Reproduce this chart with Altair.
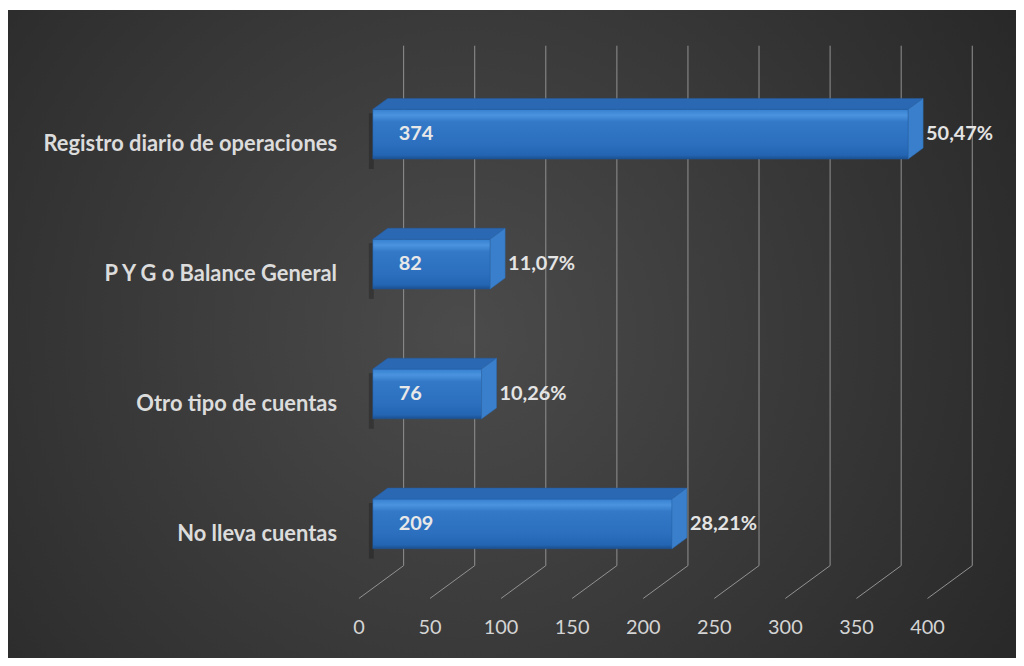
import altair as alt
import pandas as pd

# ---- data ----
categories = ["Registro diario de operaciones", "P Y G o Balance General",
              "Otro tipo de cuentas", "No lleva cuentas"]
values = [374, 82, 76, 209]
percent_labels = ["50,47%", "11,07%", "10,26%", "28,21%"]
ticks = [0, 50, 100, 150, 200, 250, 300, 350, 400]

# ---- geometry (style constants) ----
W, H = 1014, 652
BAR_RANGE = [367, 943]       # x range of bar scale (front plane of bars)
GRID_RANGE = [398, 970]      # x range of back wall gridlines
ROW_RANGE = [125, 517]       # y positions of the 4 category rows
X_PX = (BAR_RANGE[1] - BAR_RANGE[0]) / 400.0
ROW_PX = (ROW_RANGE[1] - ROW_RANGE[0]) / 3.0
HALF_H = 25 / ROW_PX
DEPTH_Y = 11 / ROW_PX
DEPTH_X = 15 / X_PX
SHADOW = 10 / ROW_PX

rows = list(range(len(categories)))
base = pd.DataFrame({"cat": categories, "value": values, "pct": percent_labels,
                     "row": rows, "zero": [0] * len(values)})
base["y1"] = base["row"] - HALF_H
base["y2"] = base["row"] + HALF_H
base["ys1"] = base["row"] - HALF_H + 4 / ROW_PX
base["ys2"] = base["row"] + HALF_H + SHADOW

top_rows, side_rows = [], []
for c, v, r in zip(categories, values, rows):
    top_rows.append({"cat": c, "y": r - HALF_H, "x": 0, "x2": v})
    top_rows.append({"cat": c, "y": r - HALF_H - DEPTH_Y, "x": DEPTH_X, "x2": v + DEPTH_X})
    side_rows.append({"cat": c, "x": v, "y": r - HALF_H, "y2": r + HALF_H})
    side_rows.append({"cat": c, "x": v + DEPTH_X, "y": r - HALF_H - DEPTH_Y, "y2": r + HALF_H - DEPTH_Y})
top_df = pd.DataFrame(top_rows)
side_df = pd.DataFrame(side_rows)
tick_df = pd.DataFrame({"t": ticks, "label": [str(t) for t in ticks]})

xbar = alt.Scale(domain=[0, 400], range=BAR_RANGE, nice=False)
xgrid = alt.Scale(domain=[0, 400], range=GRID_RANGE, nice=False)
yrow = alt.Scale(domain=[0, 3], range=ROW_RANGE, nice=False, zero=False)

FONT = "Lato"
TXT = "#dcdcdc"

bg = alt.Chart(pd.DataFrame({"a": [0]})).mark_rect(
    fill={"gradient": "radial", "x1": 0.45, "y1": 0.5, "r1": 0,
          "x2": 0.45, "y2": 0.5, "r2": 0.75,
          "stops": [{"offset": 0, "color": "#4b4b4b"},
                    {"offset": 1, "color": "#222222"}]}
).encode(x=alt.value(0), x2=alt.value(W), y=alt.value(0), y2=alt.value(H))

grid_v = alt.Chart(tick_df).mark_rule(color="#929292", strokeWidth=1).encode(
    x=alt.X("t:Q", scale=xgrid, axis=None),
    y=alt.value(36), y2=alt.value(559))

grid_d = alt.Chart(tick_df).mark_rule(color="#929292", strokeWidth=1, x2Offset=-45).encode(
    x=alt.X("t:Q", scale=xgrid, axis=None),
    x2=alt.X2("t:Q"),
    y=alt.value(559), y2=alt.value(592))

tick_text = alt.Chart(tick_df).mark_text(
    font=FONT, fontSize=20, color="#d4d4d4", align="center", baseline="middle", dx=-45
).encode(x=alt.X("t:Q", scale=xgrid, axis=None), y=alt.value(622), text="label:N")

shadow = alt.Chart(base).mark_rect(color="#000000", opacity=0.22, xOffset=-4, x2Offset=-4).encode(
    x=alt.X("zero:Q", scale=xbar, axis=None),
    x2=alt.X2("zero2:Q"),
    y=alt.Y("ys1:Q", scale=yrow, axis=None), y2=alt.Y2("ys2:Q")
).transform_calculate(zero2="5/%f" % X_PX)

front = alt.Chart(base).mark_rect(
    fill={"gradient": "linear", "x1": 0, "y1": 0, "x2": 0, "y2": 1,
          "stops": [{"offset": 0, "color": "#3580d0"},
                    {"offset": 0.12, "color": "#4b93de"},
                    {"offset": 0.25, "color": "#3379c8"},
                    {"offset": 0.7, "color": "#2b6fbe"},
                    {"offset": 0.92, "color": "#2365b2"},
                    {"offset": 1, "color": "#1b4f8f"}]},
    stroke="#1f5aa0", strokeWidth=0.5
).encode(
    x=alt.X("zero:Q", scale=xbar, axis=None), x2=alt.X2("value:Q"),
    y=alt.Y("y1:Q", scale=yrow, axis=None), y2=alt.Y2("y2:Q"))

top = alt.Chart(top_df).mark_area(orient="horizontal", color="#2a68b3", opacity=1,
                                   stroke="#245ea3", strokeWidth=0.5).encode(
    y=alt.Y("y:Q", scale=yrow, axis=None),
    x=alt.X("x:Q", scale=xbar, axis=None), x2=alt.X2("x2:Q"),
    detail="cat:N")

side = alt.Chart(side_df).mark_area(orient="vertical", color="#3a7fcb", opacity=1,
                                    stroke="#2f6db5", strokeWidth=0.5).encode(
    x=alt.X("x:Q", scale=xbar, axis=None),
    y=alt.Y("y:Q", scale=yrow, axis=None), y2=alt.Y2("y2:Q"),
    detail="cat:N")

val_text = alt.Chart(base).mark_text(
    font=FONT, fontSize=20, fontWeight="bold", color="#e8e8e8", align="left",
    baseline="middle", dx=26
).encode(x=alt.X("zero:Q", scale=xbar, axis=None),
         y=alt.Y("row:Q", scale=yrow, axis=None), text="value:N")

pct_text = alt.Chart(base).mark_text(
    font=FONT, fontSize=20, fontWeight="bold", color="#e4e4e4", align="left",
    baseline="middle", dx=18
).encode(x=alt.X("value:Q", scale=xbar, axis=None),
         y=alt.Y("row:Q", scale=yrow, axis=None), text="pct:N")

cat_text = alt.Chart(base).mark_text(
    font=FONT, fontSize=22, fontWeight="bold", color=TXT, align="right",
    baseline="middle", dy=10
).encode(x=alt.value(331),
         y=alt.Y("row:Q", scale=yrow, axis=None), text="cat:N")

chart = alt.layer(
    bg, grid_v, grid_d, tick_text, shadow, front, top, side, val_text, pct_text, cat_text
).resolve_scale(x="independent", y="independent").properties(
    width=W, height=H, padding=0, autosize=alt.AutoSizeParams(type="none"),
    background="#ffffff"
).configure_view(strokeWidth=0)

chart.save("out.html", embed_options={"renderer": "svg", "actions": False})
